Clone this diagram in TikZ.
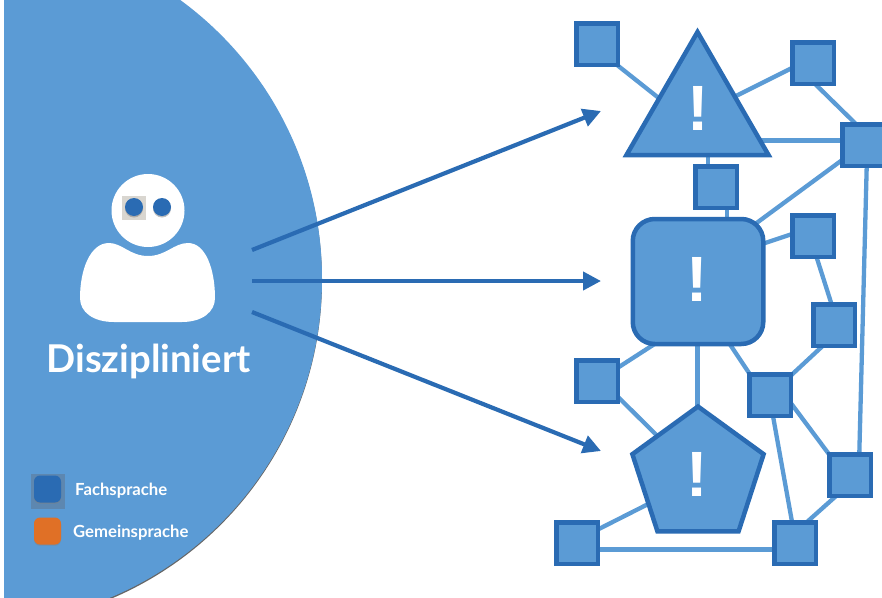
\documentclass[tikz,border=0pt]{standalone}
\usepackage{fontspec}
\setmainfont{Lato}
\newfontfamily\bangfont{Liberation Sans}
\usetikzlibrary{shapes.geometric,shadows,arrows.meta,calc}
\definecolor{lightb}{HTML}{5B9BD5}
\definecolor{darkb}{HTML}{2A6BB3}
\definecolor{orangeb}{HTML}{E07026}
\definecolor{legback}{HTML}{5D87B0}
\definecolor{eyeback}{HTML}{D9D6D0}
\pgfdeclarelayer{edges}
\pgfsetlayers{edges,main}
\tikzset{
  softshadow/.style={drop shadow={shadow xshift=0pt,shadow yshift=-1.4pt,opacity=.45,fill=black!80}},
  sq/.style={draw=darkb,fill=lightb,line width=4.5pt,minimum size=41.5pt,inner sep=0pt,softshadow},
  big/.style={draw=darkb,fill=lightb,line width=4.5pt,inner sep=0pt,outer sep=0pt,softshadow},
  wire/.style={draw=lightb,line width=4.3pt},
  fatwire/.style={draw=lightb,line width=5pt},
  flow/.style={draw=darkb,line width=4.2pt,-{Triangle[length=18pt,width=18pt]}},
  bang/.style={text=white,font=\bangfont\bfseries\fontsize{64}{64}\selectfont,inner sep=0pt},
  legendtext/.style={text=white,font=\bfseries\fontsize{16.7}{18}\selectfont,inner sep=0pt,anchor=west},
  swatch/.style={rounded corners=6pt,minimum size=27pt,inner sep=0pt,drop shadow={shadow xshift=0pt,shadow yshift=-1.2pt,opacity=.5}},
  eye/.style={circle,fill=darkb,minimum size=18pt,inner sep=0pt,drop shadow={shadow xshift=0pt,shadow yshift=-1.5pt,opacity=.5}}
}
\begin{document}
\begin{tikzpicture}[x=1pt,y=-1pt]
\useasboundingbox (0,0) rectangle (882,597);
\begin{scope}
  \clip (4,0) rectangle (882,597);
  \fill[black!60] (-23.4,280.5) circle (345.4);
  \fill[lightb] (-23.4,279) circle (345.4);
\end{scope}
% person
\fill[white] (148,210.5) circle (36.5);
\fill[white] (114,322) .. controls (93,322) and (80,312) .. (80,298)
  .. controls (80,270) and (90,243) .. (109,243)
  .. controls (122,243) and (130,256) .. (148,256)
  .. controls (166,256) and (174,243) .. (188,243)
  .. controls (206,243) and (215,270) .. (215,298)
  .. controls (215,312) and (202,322) .. (182,322) -- cycle;
\fill[eyeback] (122,196) rectangle (146,220);
\node[eye] (eyeL) at (134,207) {};
\node[eye] (eyeR) at (162,207) {};
\node[text=white,font=\bfseries\fontsize{38.3}{42}\selectfont,inner sep=0pt] (title) at (148.5,361) {Diszipliniert};
% legend
\fill[legback] (31,474) rectangle (65,509);
\node[swatch,fill=darkb] (lega) at (47.5,489) {};
\node[swatch,fill=orangeb] (legb) at (47.5,531) {};
\node[legendtext] (legat) at (75,491) {Fachsprache};
\node[legendtext] (legbt) at (73,533) {Gemeinsprache};
% shapes
\node[big,regular polygon,regular polygon sides=3,minimum size=164pt] (tri) at (697.5,114) {};
\node[big,rounded corners=22pt,minimum width=130.5pt,minimum height=125pt] (rect) at (698,281.5) {};
\node[big,regular polygon,regular polygon sides=5,minimum size=138pt] (pent) at (698,475.5) {};
\node[bang] (b1) at (698.5,108) {!};
\node[bang] (b2) at (697,279) {!};
\node[bang] (b3) at (697,474.5) {!};
% squares
\node[sq] (s1) at (597,44) {};
\node[sq] (s2) at (813,63) {};
\node[sq] (s3) at (863,145) {};
\node[sq] (s4) at (716,187) {};
\node[sq] (s5) at (813,236) {};
\node[sq] (s6) at (834,325) {};
\node[sq] (s7) at (597,381) {};
\node[sq] (s8) at (770,395) {};
\node[sq] (s9) at (850,475) {};
\node[sq] (s10) at (577,543) {};
\node[sq] (s11) at (795,543) {};
% arrows
\coordinate (fromA) at (252,250);
\coordinate (fromB) at (252,281);
\coordinate (fromC) at (252,312);
\coordinate (toA) at (601,111);
\coordinate (toB) at (601,281);
\coordinate (toC) at (601,451);
\draw[flow] (fromA) -- (toA);
\draw[flow] (fromB) -- (toB);
\draw[flow] (fromC) -- (toC);
% connectors
\begin{pgfonlayer}{edges}
\draw[wire] ($(s1)+(15,17)$) -- ($(tri)+(-32.5,-11)$);
\draw[wire] ($(tri)+(27.5,-12.5)$) -- ($(s2)+(-13,1)$);
\draw[wire] ($(s2)+(-3,16)$) -- ($(s3)+(-3,-17)$);
\draw[fatwire] ($(tri)+(60,26)$) -- ($(s3)+(-10,-5)$);
\draw[wire] ($(tri)+(10.5,30)$) -- ($(s4)+(-8,-10)$);
\draw[wire] ($(s4)+(11,10)$) -- ($(rect)+(29,-50)$);
\draw[wire] ($(s3)+(-10,7)$) -- ($(rect)+(47,-50)$);
\draw[wire] ($(s5)+(-11,-5.3)$) -- ($(rect)+(52,-33.5)$);
\draw[wire] ($(s3)+(4,10)$) -- ($(s9)+(9,-10)$);
\draw[wire] ($(s5)+(0,10)$) -- ($(s6)+(1,-10)$);
\draw[wire] ($(s6)+(-6,16)$) -- ($(s8)+(15,-14)$);
\draw[wire] ($(rect)+(25,52.5)$) -- ($(s8)+(-10,-5.5)$);
\draw[fatwire] ($(rect)+(-1,50)$) -- ($(pent)+(-1,-50)$);
\draw[wire] ($(rect)+(-38,59)$) -- ($(s7)+(10,-6.3)$);
\draw[wire] ($(s7)+(10,5)$) -- ($(pent)+(-33,-32)$);
\draw[wire] ($(s8)+(10,-6.5)$) -- ($(s9)+(-10,-6)$);
\draw[wire] ($(s8)+(1,10)$) -- ($(s11)+(-1,-10)$);
\draw[wire] ($(s9)+(-5,13)$) -- ($(s11)+(3,-13)$);
\draw[fatwire] ($(s10)+(10,6)$) -- ($(s11)+(-10,6)$);
\draw[wire] ($(s10)+(8,-7)$) -- ($(pent)+(-33,20)$);
\end{pgfonlayer}
\end{tikzpicture}
\end{document}
